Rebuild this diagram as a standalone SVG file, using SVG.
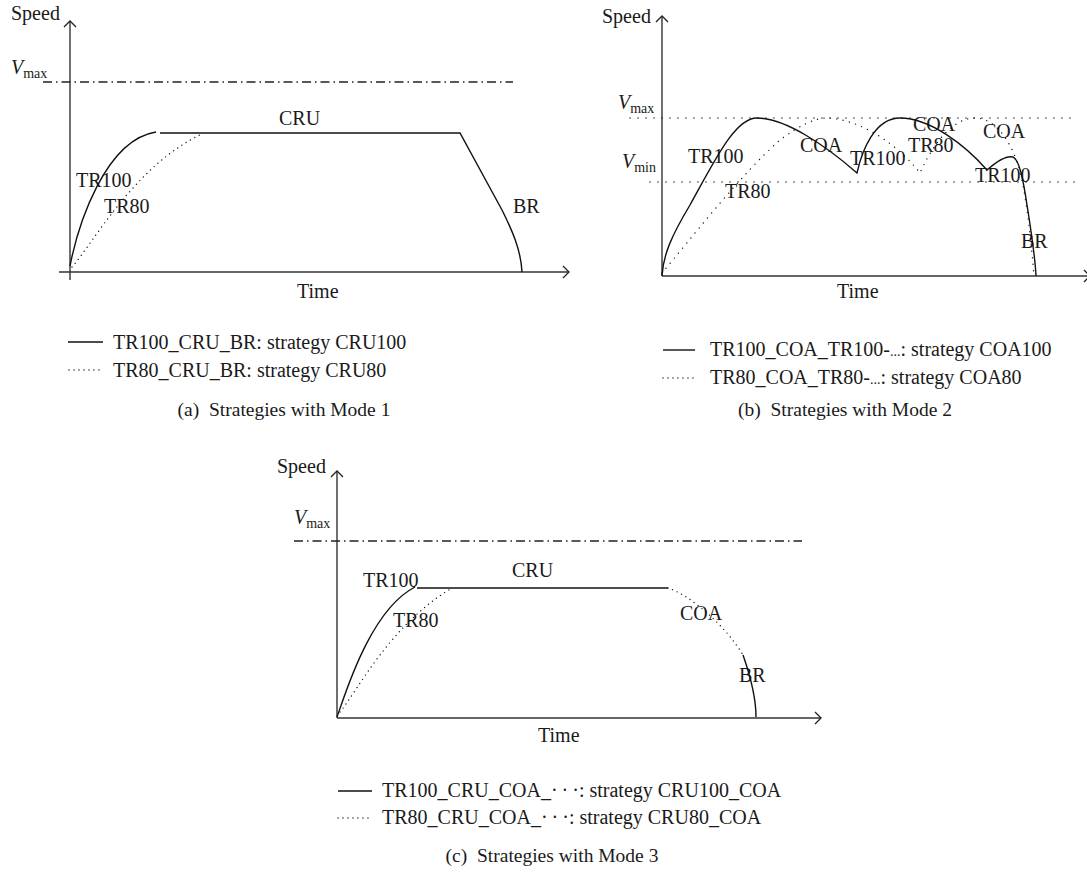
<svg xmlns="http://www.w3.org/2000/svg" width="1087" height="872" viewBox="0 0 1087 872">
<defs>
<marker id="arr" markerUnits="userSpaceOnUse" markerWidth="14" markerHeight="14" refX="0" refY="0" viewBox="-8 -7 10 14" orient="auto" overflow="visible">
<path d="M-6,-6 L0,0 L-6,6" fill="none" stroke="#222" stroke-width="1.3"/>
</marker>
</defs>
<style>
text{font-family:"Liberation Serif","Times New Roman",serif;fill:#1a1a1a;font-size:20px}
.cap{font-size:19.5px}
.sub{font-size:14px}
.axis{fill:none;stroke:#333;stroke-width:1.4;marker-end:url(#arr)}
.solid{fill:none;stroke:#111;stroke-width:1.4}
.dot{fill:none;stroke:#111;stroke-width:1.4;stroke-linecap:round;stroke-dasharray:0 5}
.dotb{fill:none;stroke:#111;stroke-width:1.4;stroke-linecap:round;stroke-dasharray:0 6.5}
.hdot{fill:none;stroke:#111;stroke-width:1.4;stroke-linecap:round;stroke-dasharray:0 8}
.dd{fill:none;stroke:#222;stroke-width:1.3;stroke-dasharray:9 4 1.5 4}
</style>

<g id="panel-a">
<text x="11" y="20">Speed</text>
<text x="11" y="74"><tspan font-style="italic">V</tspan><tspan class="sub" dy="4">max</tspan></text>
<text x="279" y="125">CRU</text>
<text x="76" y="187">TR100</text>
<text x="104" y="213">TR80</text>
<text x="513" y="213">BR</text>
<text x="297" y="298">Time</text>
</g>
<g id="connectors-a">
<path class="axis" d="M70,280 V21"/>
<path class="axis" d="M59,272 H569"/>
<path class="dd" d="M43,82 H513"/>
<path class="solid" d="M70,266 C78,225 105,140 156,132"/>
<path class="dot" d="M72,267 C92,245 135,165 202,134"/>
<path class="solid" d="M160,133 H460 L502,210 C512,230 521,250 522,272"/>
</g>
<g id="legend-a">
<line class="solid" x1="68" y1="342" x2="103" y2="342"/>
<text x="113" y="349">TR100_CRU_BR: strategy CRU100</text>
<line class="dot" x1="69" y1="370" x2="103" y2="370"/>
<text x="113" y="377">TR80_CRU_BR: strategy CRU80</text>
<text class="cap" x="284" y="416" text-anchor="middle">(a)&#160;&#160;Strategies with Mode 1</text>
</g>

<g id="panel-b">
<text x="602" y="23">Speed</text>
<text x="618" y="109"><tspan font-style="italic">V</tspan><tspan class="sub" dy="4">max</tspan></text>
<text x="622" y="168"><tspan font-style="italic">V</tspan><tspan class="sub" dy="4">min</tspan></text>
<text x="688" y="163">TR100</text>
<text x="725" y="198">TR80</text>
<text x="800" y="152">COA</text>
<text x="850" y="165">TR100</text>
<text x="913" y="131">COA</text>
<text x="908" y="152">TR80</text>
<text x="983" y="138">COA</text>
<text x="975" y="182">TR100</text>
<text x="1021" y="248">BR</text>
<text x="837" y="298">Time</text>
</g>
<g id="connectors-b">
<path class="axis" d="M662,276 V16"/>
<path class="axis" d="M662,276 H1090"/>
<path class="hdot" d="M630,118 H1073"/>
<path class="hdot" d="M650,182 H1078"/>
<path class="solid" d="M662,276 C663,255 672,235 690,205 C715,160 735,118 757,118 C785,118 825,145 857,173 C862,150 875,118 900,118 C930,118 965,145 987,170 C995,163 1005,155 1013,157 C1020,160 1024,185 1027,205 C1031,230 1035,255 1036,276"/>
<path class="dotb" d="M662,273 C690,240 740,175 780,140 C800,125 815,118 827,118 C850,118 890,135 920,173 C930,150 950,118 975,118 C995,118 1010,140 1018,165 C1026,190 1031,240 1034,276"/>
</g>
<g id="legend-b">
<line class="solid" x1="663" y1="350" x2="695" y2="350"/>
<text x="710" y="356">TR100_COA_TR100-<tspan class="sub">...</tspan>: strategy COA100</text>
<line class="dot" x1="663" y1="378" x2="695" y2="378"/>
<text x="710" y="384">TR80_COA_TR80-<tspan class="sub">...</tspan>: strategy COA80</text>
<text class="cap" x="845" y="416" text-anchor="middle">(b)&#160;&#160;Strategies with Mode 2</text>
</g>

<g id="panel-c">
<text x="277" y="473">Speed</text>
<text x="294" y="524"><tspan font-style="italic">V</tspan><tspan class="sub" dy="4">max</tspan></text>
<text x="512" y="577">CRU</text>
<text x="363" y="587">TR100</text>
<text x="393" y="627">TR80</text>
<text x="680" y="620">COA</text>
<text x="739" y="682">BR</text>
<text x="538" y="742">Time</text>
</g>
<g id="connectors-c">
<path class="axis" d="M337,718 V471"/>
<path class="axis" d="M337,718 H821"/>
<path class="dd" d="M294,541 H802"/>
<path class="solid" d="M337,717 C345,695 370,610 415,587"/>
<path class="dot" d="M340,712 C358,690 390,625 452,588"/>
<path class="solid" d="M417,588 H668"/>
<path class="dot" d="M668,588 C690,595 725,625 743,655"/>
<path class="solid" d="M743,655 C750,675 756,700 756,717"/>
</g>
<g id="legend-c">
<line class="solid" x1="338" y1="791" x2="372" y2="791"/>
<text x="382" y="797">TR100_CRU_COA_·&#8201;·&#8201;·: strategy CRU100_COA</text>
<line class="dot" x1="338" y1="818" x2="372" y2="818"/>
<text x="382" y="824">TR80_CRU_COA_·&#8201;·&#8201;·: strategy CRU80_COA</text>
<text class="cap" x="552" y="862" text-anchor="middle">(c)&#160;&#160;Strategies with Mode 3</text>
</g>
</svg>
